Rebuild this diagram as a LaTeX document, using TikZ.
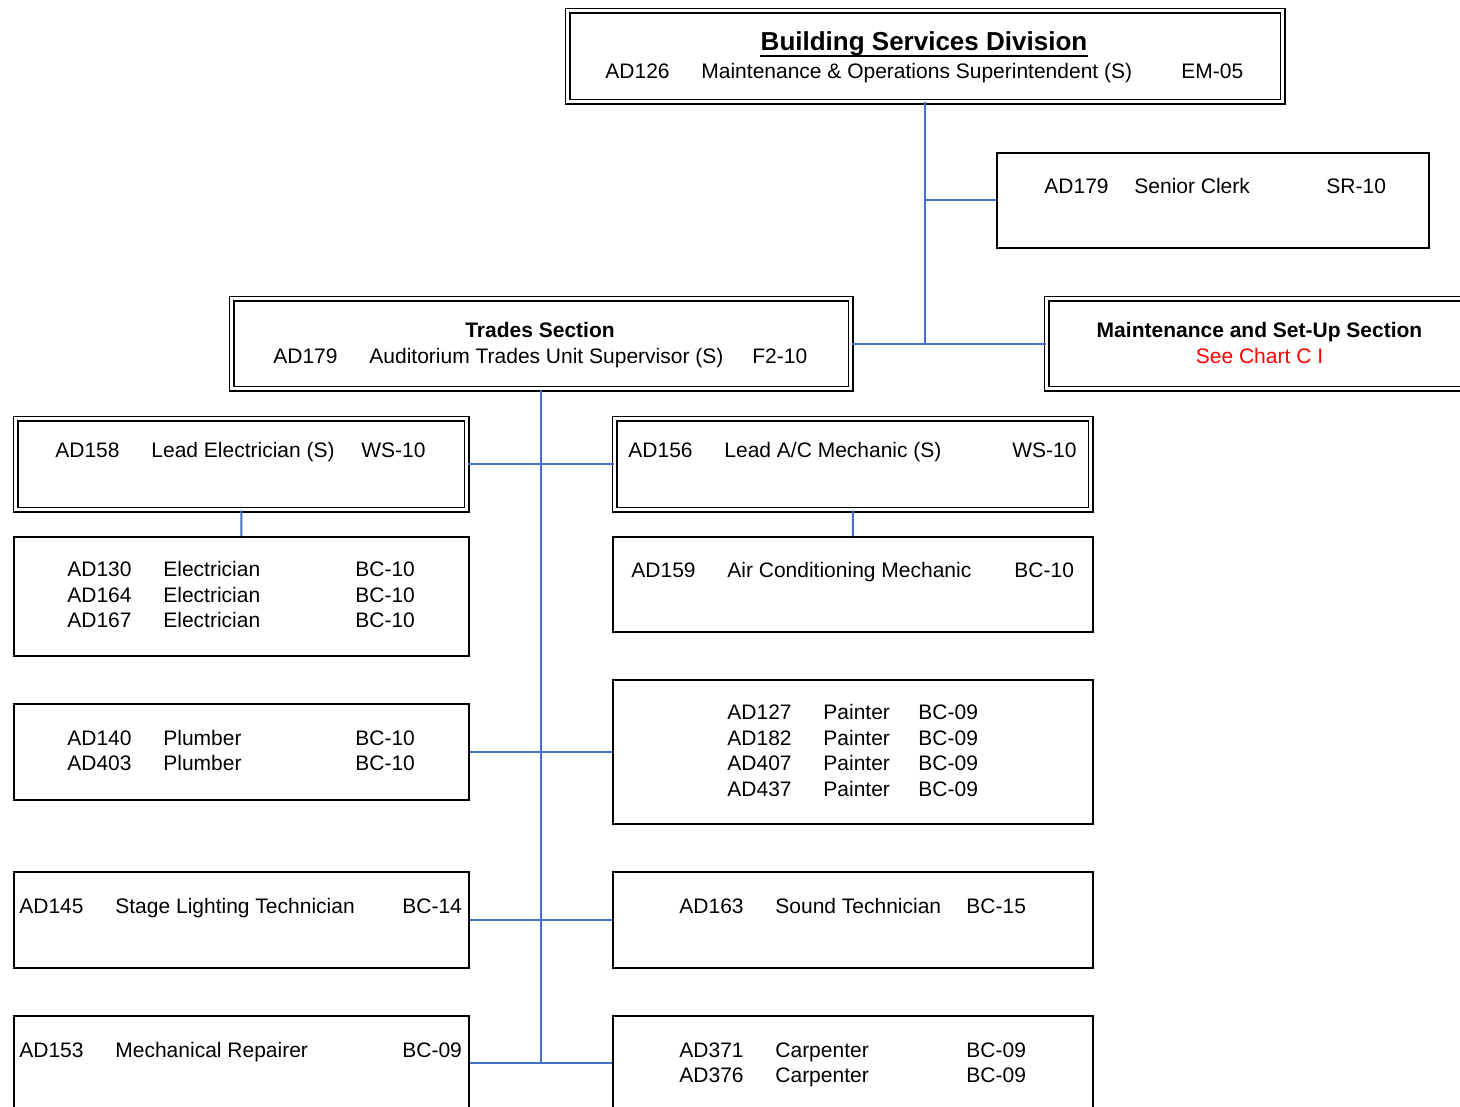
\documentclass[tikz,border=0pt]{standalone}
\usepackage{fontspec}
\setmainfont{Liberation Sans}
\definecolor{conn}{RGB}{68,114,196}
\newcommand\jrow[8]{%
  \node[txt] (#1-c) at (#3,#2) {#4};
  \node[txt] (#1-t) at (#5,#2) {#6};
  \node[txt] (#1-g) at (#7,#2) {#8};}
\begin{document}
\begin{tikzpicture}[x=0.5pt,y=-0.5pt,
  sbox/.style={draw=black,line width=0.9pt,fill=white,anchor=north west,inner sep=0pt,minimum width=#1},
  dbox/.style={draw=black,line width=0.75pt,double=white,double distance=1.3pt,fill=white,anchor=north west,inner sep=0pt,minimum width=#1},
  txt/.style={anchor=base west,inner sep=0pt,font=\fontsize{10.5}{12.6}\selectfont},
  ttl/.style={anchor=base,inner sep=0pt,font=\fontsize{10.5}{12.6}\selectfont\bfseries},
  conn/.style={draw=conn,line width=1pt}]
\useasboundingbox (0,0) rectangle (1460,1107);
\clip (0,0) rectangle (1460,1107);
% boxes
\node[dbox=357.5pt,minimum height=45.5pt] (top) at (567,10) {};
\node[sbox=216pt,minimum height=47.5pt] (clerk) at (996,152) {};
\node[dbox=309.5pt,minimum height=45pt] (trades) at (231,298) {};
\node[dbox=217pt,minimum height=45pt] (maint) at (1046,298) {};
\node[dbox=225.5pt,minimum height=45.5pt] (leadE) at (15,418) {};
\node[dbox=238pt,minimum height=45.5pt] (leadAC) at (614,418) {};
\node[sbox=227.5pt,minimum height=59.5pt] (elec) at (13,536) {};
\node[sbox=240pt,minimum height=47.5pt] (acm) at (612,536) {};
\node[sbox=227.5pt,minimum height=48pt] (plumb) at (13,703) {};
\node[sbox=240pt,minimum height=72pt] (paint) at (612,679) {};
\node[sbox=227.5pt,minimum height=48pt] (stage) at (13,871) {};
\node[sbox=240pt,minimum height=48pt] (sound) at (612,871) {};
\node[sbox=227.5pt,minimum height=47pt] (mech) at (13,1015) {};
\node[sbox=240pt,minimum height=47pt] (carp) at (612,1015) {};
% connectors
\draw[conn] (top.south) -- (top.south |- trades.east);
\draw[conn] (top.south |- clerk.west) -- (clerk.west);
\draw[conn] (trades.east) -- (maint.west);
\draw[conn] (trades.south) -- (trades.south |- mech.east);
\draw[conn] (leadE.east) -- (leadAC.west);
\draw[conn] (leadE.south) -- (elec.north);
\draw[conn] (leadAC.south) -- (acm.north);
\draw[conn] (plumb.east) -- (paint.west);
\draw[conn] (stage.east) -- (sound.west);
\draw[conn] (mech.east) -- (carp.west);
% texts
\node[ttl,font=\fontsize{13}{15.6}\selectfont\bfseries] (top-h) at (924,51) {Building Services Division};
\draw[line width=0.8pt] ([yshift=-2.6pt]top-h.base west) -- ([yshift=-2.6pt]top-h.base east);
\jrow{top}{78.5}{605}{AD126}{701}{Maintenance \& Operations Superintendent (S)}{1181}{EM-05}
\jrow{clerk}{193.5}{1044}{AD179}{1134}{Senior Clerk}{1326}{SR-10}
\node[ttl] (trades-h) at (540,337.5) {Trades Section};
\jrow{trades}{363.5}{273}{AD179}{369}{Auditorium Trades Unit Supervisor (S)}{752}{F2-10}
\node[ttl] (maint-h) at (1259.5,337.5) {Maintenance and Set-Up Section};
\node[ttl,font=\fontsize{10.5}{12.6}\selectfont,text=red] (maint-r) at (1259.5,363.5) {See Chart C I};
\jrow{leadE}{457.5}{55}{AD158}{151}{Lead Electrician (S)}{361}{WS-10}
\jrow{leadAC}{457.5}{628}{AD156}{724}{Lead A/C Mechanic (S)}{1012}{WS-10}
\jrow{elecA}{576.5}{67}{AD130}{163}{Electrician}{355}{BC-10}
\jrow{elecB}{602.5}{67}{AD164}{163}{Electrician}{355}{BC-10}
\jrow{elecC}{627.5}{67}{AD167}{163}{Electrician}{355}{BC-10}
\jrow{acm}{577.5}{631}{AD159}{727}{Air Conditioning Mechanic}{1014}{BC-10}
\jrow{plumbA}{745.5}{67}{AD140}{163}{Plumber}{355}{BC-10}
\jrow{plumbB}{770.5}{67}{AD403}{163}{Plumber}{355}{BC-10}
\jrow{paintA}{719.5}{727}{AD127}{823}{Painter}{918}{BC-09}
\jrow{paintB}{745.5}{727}{AD182}{823}{Painter}{918}{BC-09}
\jrow{paintC}{770.5}{727}{AD407}{823}{Painter}{918}{BC-09}
\jrow{paintD}{796.5}{727}{AD437}{823}{Painter}{918}{BC-09}
\jrow{stage}{913.5}{19}{AD145}{115}{Stage Lighting Technician}{402}{BC-14}
\jrow{sound}{913.5}{679}{AD163}{775}{Sound Technician}{966}{BC-15}
\jrow{mech}{1057.5}{19}{AD153}{115}{Mechanical Repairer}{402}{BC-09}
\jrow{carpA}{1057.5}{679}{AD371}{775}{Carpenter}{966}{BC-09}
\jrow{carpB}{1082.5}{679}{AD376}{775}{Carpenter}{966}{BC-09}
\end{tikzpicture}
\end{document}
